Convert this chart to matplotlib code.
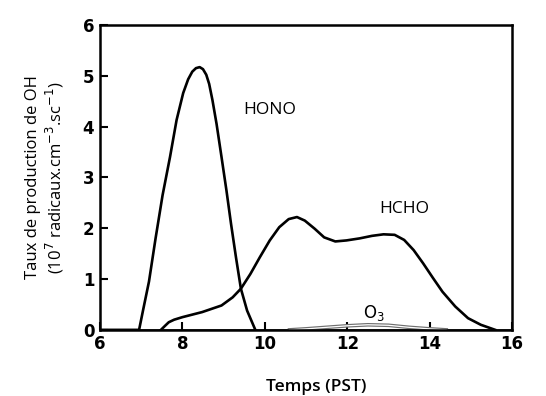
import matplotlib.pyplot as plt

# valeurs (temps PST, 10^7 radicaux.cm-3.s-1)
hono_t = [6.0, 6.95, 7.05, 7.19, 7.35, 7.52, 7.7, 7.86, 8.02, 8.14, 8.24, 8.33, 8.42, 8.5,
          8.58, 8.65, 8.73, 8.83, 8.95, 9.07, 9.18, 9.3, 9.42, 9.57, 9.77]
hono_v = [0.0, 0.0, 0.4, 0.95, 1.8, 2.65, 3.4, 4.13, 4.66, 4.93, 5.08, 5.15, 5.17, 5.13,
          5.02, 4.84, 4.52, 4.05, 3.4, 2.74, 2.09, 1.43, 0.81, 0.38, 0.0]

hcho_t = [7.48, 7.58, 7.67, 7.8, 8.0, 8.48, 8.95, 9.22, 9.42, 9.65, 9.88, 10.12, 10.35, 10.58,
          10.78, 10.97, 11.21, 11.44, 11.71, 11.98, 12.3, 12.6, 12.88, 13.15, 13.38, 13.61,
          13.84, 14.08, 14.31, 14.62, 14.93, 15.24, 15.59]
hcho_v = [0.0, 0.08, 0.15, 0.2, 0.25, 0.35, 0.48, 0.64, 0.81, 1.1, 1.43, 1.76, 2.02, 2.18,
          2.22, 2.15, 1.99, 1.82, 1.74, 1.76, 1.8, 1.85, 1.88, 1.87, 1.77, 1.57,
          1.31, 1.02, 0.75, 0.46, 0.23, 0.1, 0.0]

o3_t = [10.6, 11.0, 11.5, 12.0, 12.5, 13.0, 13.5, 14.0, 14.4]
o3_v = [0.0, 0.02, 0.05, 0.08, 0.1, 0.09, 0.05, 0.02, 0.0]

base_t = [6.0, 16.0]
base_v = [0.0, 0.0]

fig = plt.figure(figsize=(5.46, 3.96), dpi=100)
ax = fig.add_axes([0.183, 0.167, 0.755, 0.77])

ax.plot(base_t, base_v, color='black', lw=1.8)
ax.plot(hono_t, hono_v, color='black', lw=1.9, solid_joinstyle='round')
ax.plot(hcho_t, hcho_v, color='black', lw=1.9, solid_joinstyle='round')
ax.plot(o3_t, o3_v, color='#6f6f6f', lw=2.6)
ax.plot(o3_t, o3_v, color='white', lw=0.9)

ax.text(10.12, 4.33, 'HONO', fontsize=12.5, family='Open Sans', ha='center', va='center')
ax.text(13.38, 2.38, 'HCHO', fontsize=12.5, family='Open Sans', ha='center', va='center')
ax.text(12.64, 0.33, 'O$_3$', fontsize=12, family='DejaVu Sans', ha='center', va='center')

ax.set_xlim(6, 16)
ax.set_ylim(0, 6)
ax.set_xticks(range(6, 17, 2))
ax.set_yticks(range(0, 7))
ax.tick_params(direction='in', length=6, width=1.5, labelsize=12, pad=4)
for lab in ax.get_xticklabels() + ax.get_yticklabels():
    lab.set_fontweight('bold')
for s in ax.spines.values():
    s.set_linewidth(1.8)

ax.set_xlabel('Temps (PST)', fontsize=12.5, family='Open Sans', fontweight='semibold')
ax.xaxis.set_label_coords(0.525, -0.16)
ax.set_ylabel('Taux de production de OH\n(10$^7$ radicaux.cm$^{-3}$.sc$^{-1}$)', fontsize=12,
              family='Open Sans', labelpad=12, linespacing=1.15)

fig.savefig('out.png', dpi=100)
